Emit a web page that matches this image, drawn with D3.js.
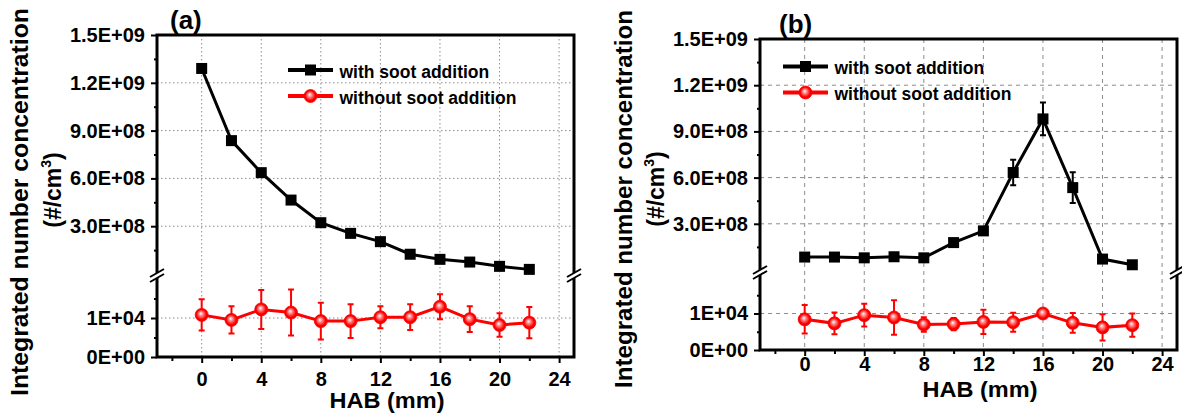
<!DOCTYPE html>
<html>
<head>
<meta charset="utf-8">
<script src="https://cdn.jsdelivr.net/npm/d3@7"></script>
<style>
  body { margin: 0; background: #fff; }
  svg text { font-family: "Liberation Sans", Arial, sans-serif; font-weight: bold; }
</style>
</head>
<body>
<svg id="chart"></svg>
<script>
// HAB positions (mm)
const hab = [0, 2, 4, 6, 8, 10, 12, 14, 16, 18, 20, 22];

// panel (a)
const withSootA = [1.29e9, 0.837e9, 0.636e9, 0.464e9, 0.322e9, 0.255e9, 0.203e9, 0.124e9, 0.092e9, 0.075e9, 0.048e9, 0.029e9];
const withSootErrA = [0, 0, 0, 0, 0, 0, 0, 0, 0, 0, 0, 0];
const withoutSootA = [1.08e4, 0.95e4, 1.22e4, 1.14e4, 0.92e4, 0.92e4, 1.02e4, 1.02e4, 1.29e4, 0.97e4, 0.82e4, 0.88e4];
const withoutSootErrA = [0.40e4, 0.35e4, 0.50e4, 0.59e4, 0.47e4, 0.43e4, 0.28e4, 0.33e4, 0.32e4, 0.33e4, 0.30e4, 0.40e4];

// panel (b)
const withSootB = [0.084e9, 0.084e9, 0.079e9, 0.086e9, 0.079e9, 0.178e9, 0.254e9, 0.633e9, 0.981e9, 0.535e9, 0.071e9, 0.034e9];
const withSootErrB = [0.004e9, 0.004e9, 0.004e9, 0.004e9, 0.004e9, 0.01e9, 0.02e9, 0.083e9, 0.106e9, 0.10e9, 0.01e9, 0.005e9];
const withoutSootB = [0.84e4, 0.73e4, 0.955e4, 0.89e4, 0.70e4, 0.71e4, 0.77e4, 0.76e4, 1.0e4, 0.745e4, 0.62e4, 0.68e4];
const withoutSootErrB = [0.39e4, 0.30e4, 0.31e4, 0.47e4, 0.20e4, 0.17e4, 0.33e4, 0.26e4, 0.10e4, 0.27e4, 0.36e4, 0.32e4];

// axes
const xMajor = [0, 4, 8, 12, 16, 20, 24];
const xMinor = [-2, 2, 6, 10, 14, 18, 22];
const upperTicks = [3e8, 6e8, 9e8, 1.2e9, 1.5e9];
const upperTickLabels = ["3.0E+08", "6.0E+08", "9.0E+08", "1.2E+09", "1.5E+09"];
const upperMinor = [1.5e8, 4.5e8, 7.5e8, 1.05e9, 1.35e9];
const lowerTicks = [0, 1e4];
const lowerTickLabels = ["0E+00", "1E+04"];
const lowerMinor = [5e3, 1.5e4];
const seriesNames = ["with soot addition", "without soot addition"];

const width = 1182, height = 416;
const svg = d3.select("#chart").attr("width", width).attr("height", height).style("background", "#fff");

const grad = svg.append("defs").append("radialGradient")
  .attr("id", "redBall").attr("cx", "50%").attr("cy", "50%").attr("r", "50%")
  .attr("fx", "42%").attr("fy", "38%");
grad.append("stop").attr("offset", "0%").attr("stop-color", "#ffffff");
grad.append("stop").attr("offset", "30%").attr("stop-color", "#ff9090");
grad.append("stop").attr("offset", "75%").attr("stop-color", "#ff0000");
grad.append("stop").attr("offset", "100%").attr("stop-color", "#e60000");

const panels = [
  { left: 157, right: 574, top: 35, bottom: 357, upBottom: 274, lowTop: 279,
    black: withSootA, blackErr: withSootErrA, red: withoutSootA, redErr: withoutSootErrA,
    grid: "1.5,2.5", title: "(a)", titleX: 170, titleY: 29, xPad: 9,
    legX: 288, legY: 70, habX: 387, habY: 408, labLen: 388,
    labX: 28, labY: 202, lab2X: 60.5, lab2Y: 190 },
  { left: 760, right: 1177, top: 39, bottom: 350, upBottom: 270, lowTop: 277,
    black: withSootB, blackErr: withSootErrB, red: withoutSootB, redErr: withoutSootErrB,
    grid: "4,4", title: "(b)", titleX: 779, titleY: 33, xPad: 1,
    legX: 783, legY: 66.5, habX: 980, habY: 397, labLen: 378,
    labX: 631.5, labY: 199, lab2X: 663.5, lab2Y: 189 }
];

panels.forEach(p => {
  const g = svg.append("g");
  const x = d3.scaleLinear().domain([-3, 25]).range([p.left, p.right]);
  const yUp = d3.scaleLinear().domain([0, 1.5e9]).range([p.upBottom, p.top]);
  const yLow = d3.scaleLinear().domain([0, 2e4]).range([p.bottom, p.lowTop]);

  // grid
  const grid = g.append("g").attr("stroke", "#8c8c8c").attr("stroke-width", 1).attr("stroke-dasharray", p.grid);
  grid.selectAll(".gx").data(xMajor).enter().append("line")
    .attr("x1", d => x(d)).attr("x2", d => x(d)).attr("y1", p.top).attr("y2", p.bottom);
  grid.selectAll(".gu").data(upperTicks.slice(0, 4)).enter().append("line")
    .attr("x1", p.left).attr("x2", p.right).attr("y1", d => yUp(d)).attr("y2", d => yUp(d));
  grid.append("line").attr("x1", p.left).attr("x2", p.right)
    .attr("y1", yLow(1e4)).attr("y2", yLow(1e4));

  const bar = (cx, y1, y2) => `M${cx},${y1}V${y2}M${cx - 3},${y1}H${cx + 3}M${cx - 3},${y2}H${cx + 3}`;

  // black series
  const line = d3.line();
  g.append("path")
    .attr("d", line(hab.map((h, i) => [x(h), yUp(p.black[i])])))
    .attr("fill", "none").attr("stroke", "#000").attr("stroke-width", 3);
  hab.forEach((h, i) => {
    if (p.blackErr[i] > 0) {
      g.append("path")
        .attr("d", bar(x(h), yUp(p.black[i] + p.blackErr[i]), yUp(p.black[i] - p.blackErr[i])))
        .attr("stroke", "#000").attr("stroke-width", 2).attr("fill", "none");
    }
  });
  g.selectAll(".sq").data(hab).enter().append("rect")
    .attr("x", h => x(h) - 5.5).attr("y", (h, i) => yUp(p.black[i]) - 5.5)
    .attr("width", 11).attr("height", 11).attr("fill", "#000");

  // red series
  g.append("path")
    .attr("d", line(hab.map((h, i) => [x(h), yLow(p.red[i])])))
    .attr("fill", "none").attr("stroke", "#ff0000").attr("stroke-width", 3);
  g.selectAll(".er").data(hab).enter().append("path")
    .attr("d", (h, i) => bar(x(h), yLow(p.red[i] + p.redErr[i]), yLow(p.red[i] - p.redErr[i])))
    .attr("stroke", "#ff0000").attr("stroke-width", 2).attr("fill", "none");
  g.selectAll(".ci").data(hab).enter().append("circle")
    .attr("cx", h => x(h)).attr("cy", (h, i) => yLow(p.red[i]))
    .attr("r", 6.5).attr("fill", "url(#redBall)").attr("stroke", "#ff0000").attr("stroke-width", 0.8);

  // axes
  const styleAxis = sel => {
    sel.select(".domain").remove();
    sel.selectAll(".tick line").attr("stroke", "#000").attr("stroke-width", 2);
    sel.attr("font-size", 20).attr("font-family", "'Liberation Sans', Arial, sans-serif").attr("font-weight", "bold");
    sel.selectAll(".tick text").attr("fill", "#000");
  };
  g.append("g").attr("transform", `translate(${p.left},0)`)
    .call(d3.axisLeft(yUp).tickValues(upperTicks).tickFormat((d, i) => upperTickLabels[i]).tickSize(6).tickPadding(6))
    .call(styleAxis);
  g.append("g").attr("transform", `translate(${p.left},0)`)
    .call(d3.axisLeft(yUp).tickValues(upperMinor).tickFormat("").tickSize(3))
    .call(styleAxis);
  g.append("g").attr("transform", `translate(${p.left},0)`)
    .call(d3.axisLeft(yLow).tickValues(lowerTicks).tickFormat((d, i) => lowerTickLabels[i]).tickSize(6).tickPadding(6))
    .call(styleAxis);
  g.append("g").attr("transform", `translate(${p.left},0)`)
    .call(d3.axisLeft(yLow).tickValues(lowerMinor).tickFormat("").tickSize(3))
    .call(styleAxis);
  g.append("g").attr("transform", `translate(0,${p.bottom})`)
    .call(d3.axisBottom(x).tickValues(xMajor).tickSize(6).tickPadding(p.xPad))
    .call(styleAxis);
  g.append("g").attr("transform", `translate(0,${p.bottom})`)
    .call(d3.axisBottom(x).tickValues(xMinor).tickFormat("").tickSize(4))
    .call(styleAxis);

  // frame
  g.append("rect").attr("x", p.left).attr("y", p.top)
    .attr("width", p.right - p.left).attr("height", p.bottom - p.top)
    .attr("fill", "none").attr("stroke", "#000").attr("stroke-width", 3);

  // axis breaks
  const yb = (p.upBottom + p.lowTop) / 2;
  [p.left, p.right].forEach(ax => {
    const br = g.append("g");
    br.append("path")
      .attr("d", `M${ax - 7},${yb + 0.5}L${ax + 7},${yb - 7.5}L${ax + 7},${yb - 2.5}L${ax - 7},${yb + 5.5}Z`)
      .attr("fill", "#fff");
    br.append("line").attr("x1", ax - 7).attr("y1", yb + 0.5).attr("x2", ax + 7).attr("y2", yb - 7.5)
      .attr("stroke", "#000").attr("stroke-width", 2);
    br.append("line").attr("x1", ax - 7).attr("y1", yb + 5.5).attr("x2", ax + 7).attr("y2", yb - 2.5)
      .attr("stroke", "#000").attr("stroke-width", 2);
  });

  // legend
  const leg = g.append("g");
  [0, 1].forEach(k => {
    const ly = p.legY + k * 26;
    const col = k === 0 ? "#000" : "#ff0000";
    leg.append("line").attr("x1", p.legX).attr("x2", p.legX + 45).attr("y1", ly).attr("y2", ly)
      .attr("stroke", col).attr("stroke-width", 4);
    if (k === 0) {
      leg.append("rect").attr("x", p.legX + 17).attr("y", ly - 5.5).attr("width", 11).attr("height", 11).attr("fill", "#000");
    } else {
      leg.append("circle").attr("cx", p.legX + 22.5).attr("cy", ly).attr("r", 6.5)
        .attr("fill", "url(#redBall)").attr("stroke", "#ff0000").attr("stroke-width", 0.8);
    }
    leg.append("text").attr("x", p.legX + 51.5).attr("y", ly + 7.5)
      .attr("font-size", 17.5).attr("fill", "#000").text(seriesNames[k]);
  });

  // titles and labels
  g.append("text").attr("x", p.titleX).attr("y", p.titleY).attr("font-size", 26).text(p.title);
  g.append("text").attr("x", p.habX).attr("y", p.habY).attr("text-anchor", "middle")
    .attr("font-size", 22).attr("textLength", 115).attr("lengthAdjust", "spacingAndGlyphs").text("HAB (mm)");
  g.append("text").attr("transform", `translate(${p.labX},${p.labY}) rotate(-90)`)
    .attr("text-anchor", "middle").attr("font-size", 23)
    .attr("textLength", p.labLen).attr("lengthAdjust", "spacingAndGlyphs")
    .text("Integrated number concentration");
  const l2 = g.append("text").attr("transform", `translate(${p.lab2X},${p.lab2Y}) rotate(-90)`)
    .attr("text-anchor", "middle").attr("font-size", 23);
  l2.append("tspan").text("(#/cm");
  l2.append("tspan").attr("font-size", 14).attr("dy", -10).text("3");
  l2.append("tspan").attr("dy", 10).text(")");
});
</script>
</body>
</html>
